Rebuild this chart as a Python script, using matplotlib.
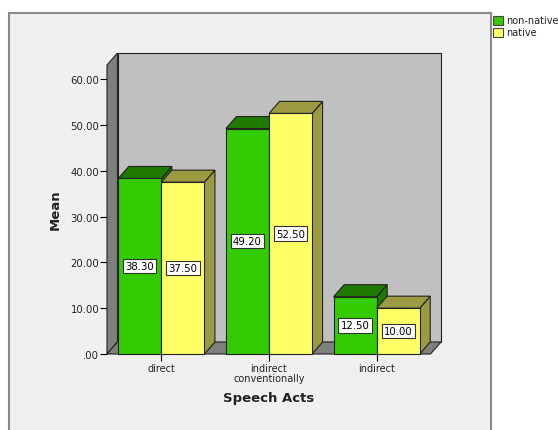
import matplotlib
matplotlib.use("Agg")
import matplotlib.pyplot as plt
from matplotlib.patches import Polygon, Rectangle

# ======================================
# DATA
categories = ['direct', 'indirect\nconventionally', 'indirect']
series = ['non-native', 'native']
non_native = [38.30, 49.20, 12.50]
native = [37.50, 52.50, 10.00]
yticks = [0, 10, 20, 30, 40, 50, 60]
ytick_labels = ['.00', '10.00', '20.00', '30.00', '40.00', '50.00', '60.00']

# ======================================
# STYLE
front_cols = ['#33cc00', '#ffff66']
shade_cols = ['#1f7a00', '#9c9a40']
W, H = 558, 431
x0, x1 = -0.505, 2.5
ytop = 63.06
bw = 0.40

fig = plt.figure(figsize=(W / 100, H / 100), dpi=100)
fig.patch.set_facecolor('white')

# outer chart frame
fig.add_artist(Rectangle((9 / W, -0.02), 482 / W, 1.02 - 14 / H, transform=fig.transFigure,
                         facecolor='#f0f0f0', edgecolor='#8a8a8a', lw=1.5, zorder=0))

ax = fig.add_axes([107 / W, 76 / H, 323.5 / W, 289 / H])
ax.set_xlim(x0, x1)
ax.set_ylim(0, ytop)
ax.patch.set_alpha(0)
for s in ax.spines.values():
    s.set_visible(False)

# depth offset in data units (10.5 px right, 12 px up)
dx = 10.5 / (323.5 / (x1 - x0))
dy = 12 / (289 / ytop)

def poly(pts, fc, z):
    ax.add_patch(Polygon(pts, closed=True, facecolor=fc, edgecolor='#222222', lw=0.8,
                         zorder=z, clip_on=False))

# walls
poly([(x0 + dx, dy), (x1 + dx, dy), (x1 + dx, ytop + dy), (x0 + dx, ytop + dy)], '#c0c0c0', 1)
poly([(x0, 0), (x0, ytop), (x0 + dx, ytop + dy), (x0 + dx, dy)], '#7f7f7f', 2)
poly([(x0, 0), (x1, 0), (x1 + dx, dy), (x0 + dx, dy)], '#7f7f7f', 2)

# bars
z = 3
for i in range(len(categories)):
    for j, vals in enumerate([non_native, native]):
        h = vals[i]
        l = i - bw + j * bw
        r = l + bw
        poly([(r, 0), (r + dx, dy), (r + dx, h + dy), (r, h)], shade_cols[j], z)
        poly([(l, h), (r, h), (r + dx, h + dy), (l + dx, h + dy)], shade_cols[j], z)
        poly([(l, 0), (r, 0), (r, h), (l, h)], front_cols[j], z)
        ax.text((l + r) / 2, h / 2, '%.2f' % h, ha='center', va='center', fontsize=7.3,
                zorder=z + 1,
                bbox=dict(boxstyle='square,pad=0.22', facecolor='white', edgecolor='#333333', lw=0.8))
        z += 2

# ticks
ax.set_yticks(yticks)
ax.set_yticklabels(ytick_labels, fontsize=7.3, color='#222222')
ax.set_xticks(range(len(categories)))
ax.set_xticklabels(categories, fontsize=7, color='#222222', linespacing=1.0)
ax.tick_params(axis='y', length=5, width=0.8, pad=0.5)
ax.tick_params(axis='x', length=5, width=0.8, pad=1.5)

fig.text(268.5 / W, 1 - 399 / H, 'Speech Acts', ha='center', va='center',
         fontsize=9.5, fontweight='bold', color='#222222')
fig.text(55 / W, 1 - 210 / H, 'Mean', ha='center', va='center', rotation=90,
         fontsize=9.5, fontweight='bold', color='#222222')

# legend
for k, name in enumerate(series):
    top = 17 + k * 12
    fig.add_artist(Rectangle((493 / W, 1 - (top + 9) / H), 10 / W, 9 / H, transform=fig.transFigure,
                             facecolor=front_cols[k], edgecolor='#444444', lw=0.8))
    fig.text(506 / W, 1 - (top + 4.5) / H, name, ha='left', va='center', fontsize=7, color='#222222')

fig.savefig('out.png', dpi=100, facecolor='white')
